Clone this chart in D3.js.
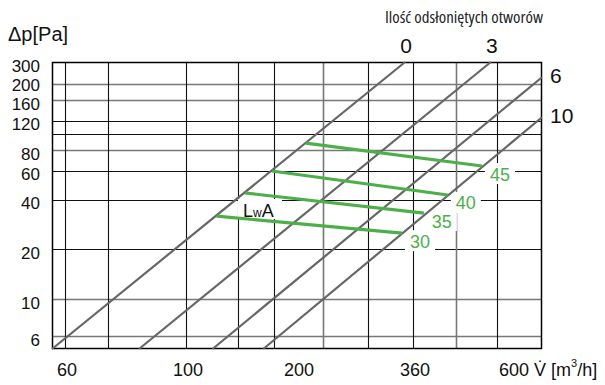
<!DOCTYPE html>
<html>
<head>
<meta charset="utf-8">
<script src="https://cdn.jsdelivr.net/npm/d3@7"></script>
<style>
  html, body { margin: 0; padding: 0; background: #fff; }
  svg { display: block; font-family: "Liberation Sans", Arial, sans-serif; }
</style>
</head>
<body>
<svg id="chart" width="605" height="385"></svg>
<script>
// Airflow V [m3/h] axis
const flowTicks = [60, 100, 200, 360, 600];
const flowExtent = [57, 790];
const flowGridMajor = [60, 72, 100, 138, 173, 287, 360, 600];
const flowGridMinor = [228, 468];

// Pressure drop Δp [Pa] axis
const dpTicks = [6, 10, 20, 40, 60, 80, 120, 160, 200, 300];
const dpExtent = [5, 272];
const dpGridMajor = [20, 40, 60, 100, 120];
const dpGridMinor = [6, 10, 80, 160, 200];

// Characteristic lines for the number of exposed openings
const openings = ["0", "3", "6", "10"];
const openingStart = [[57, 5], [82, 5], [118, 5], [162, 5]];
const openingEnd = [[346, 272], [578, 272], [790, 220], [790, 126]];

// Sound power level LwA [dB(A)] isolines
const lwaLevels = [30, 35, 40, 45];
const lwaStart = [[121, 31.8], [144.5, 43.9], [171, 59.6], [209, 88]];
const lwaEnd = [[340.5, 25.1], [384.6, 33.2], [445, 42.7], [547.6, 63.9]];

const svg = d3.select("#chart");
const plotLeft = 52, plotRight = 542, plotTop = 62, plotBottom = 349;

// The flow axis is drawn piecewise between its labelled values
const x = d3.scaleLog()
  .domain([flowExtent[0], ...flowTicks, flowExtent[1]])
  .range([plotLeft, 65, 186, 297, 413, 497, plotRight]);
const y = d3.scaleLog().domain(dpExtent).range([plotBottom, plotTop]).clamp(true);

const green = "#4daf4a";
const grid = svg.append("g");

// horizontal grid
grid.selectAll("line.hmaj").data(dpGridMajor).join("line")
  .attr("x1", plotLeft).attr("x2", plotRight)
  .attr("y1", d => Math.round(y(d)) + 0.5).attr("y2", d => Math.round(y(d)) + 0.5)
  .attr("stroke", "#111").attr("stroke-width", 1.1);
grid.selectAll("line.hmin").data(dpGridMinor).join("line")
  .attr("x1", plotLeft).attr("x2", plotRight)
  .attr("y1", d => Math.round(y(d)) + 0.5).attr("y2", d => Math.round(y(d)) + 0.5)
  .attr("stroke", "#777").attr("stroke-width", 1.6);

// vertical grid
grid.selectAll("line.vmaj").data(flowGridMajor).join("line")
  .attr("y1", plotTop).attr("y2", plotBottom)
  .attr("x1", d => Math.round(x(d)) + 0.5).attr("x2", d => Math.round(x(d)) + 0.5)
  .attr("stroke", "#111").attr("stroke-width", 1.1);
grid.selectAll("line.vmin").data(flowGridMinor).join("line")
  .attr("y1", plotTop).attr("y2", plotBottom)
  .attr("x1", d => Math.round(x(d)) + 0.5).attr("x2", d => Math.round(x(d)) + 0.5)
  .attr("stroke", "#777").attr("stroke-width", 1.6);

// frame
svg.append("rect")
  .attr("x", plotLeft + 0.5).attr("y", y(dpExtent[1]) + 0.5)
  .attr("width", x(flowExtent[1]) - plotLeft - 1).attr("height", y(dpExtent[0]) - y(dpExtent[1]) - 1)
  .attr("fill", "none").attr("stroke", "#000").attr("stroke-width", 1.5);

// LwA level label positions (next to the end of each isoline)
const lvlPos = lwaLevels.map((v, i) => ({ v, cx: x(lwaEnd[i][0]) + 18, cy: y(lwaEnd[i][1]) + 8 }));
const lwaAnchor = { x: x(lwaStart[1][0]) - 2, y: y(lwaStart[1][1]) + 24 };

// white backgrounds behind annotations
const bg = svg.append("g");
bg.selectAll("rect").data(lvlPos).join("rect")
  .attr("x", d => d.cx - 15).attr("y", d => d.cy - 11)
  .attr("width", 30).attr("height", 21).attr("fill", "#fff");
bg.append("rect")
  .attr("x", lwaAnchor.x - 5).attr("y", lwaAnchor.y - 18)
  .attr("width", 44).attr("height", 20).attr("fill", "#fff");

// opening characteristic lines
svg.append("g").selectAll("line").data(openings).join("line")
  .attr("x1", (d, i) => x(openingStart[i][0])).attr("y1", (d, i) => y(openingStart[i][1]))
  .attr("x2", (d, i) => x(openingEnd[i][0])).attr("y2", (d, i) => y(openingEnd[i][1]))
  .attr("stroke", "#666").attr("stroke-width", 2.2);

// LwA isolines
svg.append("g").selectAll("line").data(lwaLevels).join("line")
  .attr("x1", (d, i) => x(lwaStart[i][0])).attr("y1", (d, i) => y(lwaStart[i][1]))
  .attr("x2", (d, i) => x(lwaEnd[i][0])).attr("y2", (d, i) => y(lwaEnd[i][1]))
  .attr("stroke", green).attr("stroke-width", 3.2);

svg.append("g").selectAll("text").data(lvlPos).join("text")
  .attr("x", d => d.cx).attr("y", d => d.cy).attr("dy", "0.36em")
  .attr("text-anchor", "middle").attr("font-size", 18).attr("fill", green)
  .text(d => d.v);

// LwA label
const lt = svg.append("text").attr("x", lwaAnchor.x).attr("y", lwaAnchor.y)
  .attr("font-size", 18).attr("fill", "#111");
lt.append("tspan").text("L");
lt.append("tspan").attr("font-size", 12).text("w");
lt.append("tspan").text("A");

// opening counts at line ends
const atRight = i => openingEnd[i][0] >= flowExtent[1];
svg.append("g").selectAll("text").data(openings).join("text")
  .attr("x", (d, i) => atRight(i) ? x(openingEnd[i][0]) + 8 : x(openingEnd[i][0]) + 1)
  .attr("y", (d, i) => atRight(i) ? y(openingEnd[i][1]) + 6 : y(openingEnd[i][1]) - 9)
  .attr("text-anchor", (d, i) => atRight(i) ? "start" : "middle")
  .attr("font-size", 21).attr("fill", "#111")
  .text(d => d);

svg.append("text")
  .attr("x", 464).attr("y", 23).attr("text-anchor", "middle")
  .attr("font-family", "'Liberation Sans Narrow', 'Open Sans', sans-serif")
  .attr("font-stretch", "condensed")
  .attr("font-size", 17).attr("fill", "#222")
  .attr("textLength", 158).attr("lengthAdjust", "spacingAndGlyphs")
  .text("Ilość odsłoniętych otworów");

// y tick labels: set slightly below their grid lines, kept apart where lines crowd
const tickY = [];
dpTicks.forEach((d, i) => {
  let p = y(d) + 3.5;
  if (i > 0) p = Math.min(p, tickY[i - 1] - 19);
  tickY.push(p);
});
svg.append("g").selectAll("text").data(dpTicks).join("text")
  .attr("x", 40).attr("y", (d, i) => tickY[i]).attr("dy", "0.36em")
  .attr("text-anchor", "end").attr("font-size", 17).attr("fill", "#111")
  .text(d => d);

// x tick labels
const lastFlow = flowTicks[flowTicks.length - 1];
svg.append("g").selectAll("text").data(flowTicks.slice(0, -1)).join("text")
  .attr("x", d => x(d) + 2).attr("y", 376)
  .attr("text-anchor", "middle").attr("font-size", 18).attr("fill", "#111")
  .text(d => d);
const xl = svg.append("text").attr("x", x(lastFlow) + 2).attr("y", 376)
  .attr("font-size", 18).attr("fill", "#111");
xl.append("tspan").text(lastFlow + " V\u0307 [m");
xl.append("tspan").attr("font-size", 11).attr("dy", -9).text("3");
xl.append("tspan").attr("dy", 9).text("/h]");

// y axis title
svg.append("text").attr("x", 8).attr("y", 41)
  .attr("font-size", 20).attr("fill", "#111")
  .text("\u0394p[Pa]");
</script>
</body>
</html>
